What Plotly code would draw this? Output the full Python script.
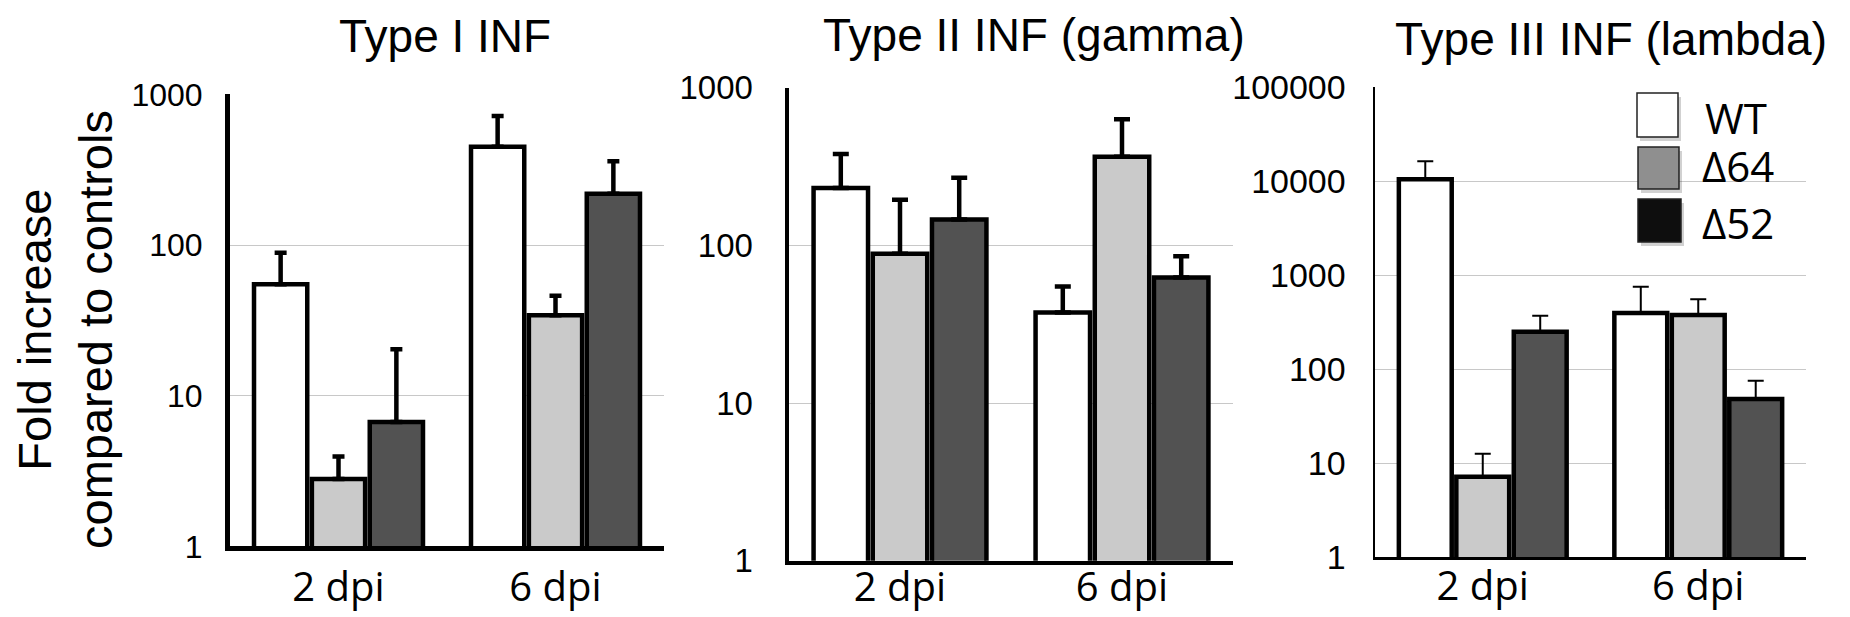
import plotly.graph_objects as go

W, H = 1850, 617

categories = ["2 dpi", "6 dpi"]
genotypes = ["WT", "Δ64", "Δ52"]
panel_titles = ["Type I INF", "Type II INF (gamma)", "Type III INF (lambda)"]

# Type I INF
t1_wt = [55, 449]
t1_wt_err = [89, 718]
t1_d64 = [2.8, 34.2]
t1_d64_err = [3.95, 46]
t1_d52 = [6.7, 219]
t1_d52_err = [20.3, 360]

# Type II INF (gamma)
t2_wt = [231, 37.6]
t2_wt_err = [380, 54.8]
t2_d64 = [88.5, 365]
t2_d64_err = [195, 631]
t2_d52 = [146, 62.5]
t2_d52_err = [269, 85.5]

# Type III INF (lambda)
t3_wt = [10500, 397]
t3_wt_err = [16300, 757]
t3_d64 = [7.2, 378]
t3_d64_err = [12.6, 555]
t3_d52 = [251, 48.2]
t3_d52_err = [372, 75.7]

y_ticks_1 = [1, 10, 100, 1000]
y_ticks_3 = [1, 10, 100, 1000, 10000, 100000]

panels = [
    [(t1_wt, t1_wt_err), (t1_d64, t1_d64_err), (t1_d52, t1_d52_err)],
    [(t2_wt, t2_wt_err), (t2_d64, t2_d64_err), (t2_d52, t2_d52_err)],
    [(t3_wt, t3_wt_err), (t3_d64, t3_d64_err), (t3_d52, t3_d52_err)],
]
bar_fill = ["#ffffff", "#cacaca", "#525252"]
legend_fill = ["#ffffff", "#8f8f8f", "#0e0e0e"]

# layout geometry (pixels)
x_dom_px = [(230, 664), (789, 1233), (1375, 1806)]
y_dom_px = [(546.4, 94.3), (560.7, 87.8), (557.3, 87.3)]
axis_lw = [5, 4.5, 2.5]
err_thick = [4.5, 4.5, 2]
err_w = [6, 8, 8]
ytick_size = [32, 33, 34]
ytick_len = [16, 25, 20]
xlabel_standoff = [2, -12, -8]
y_ranges = [[0, 3], [0, 3], [0, 5]]
y_tickvals = [y_ticks_1, y_ticks_1, y_ticks_3]

fig = go.Figure()
for p, series in enumerate(panels):
    sfx = "" if p == 0 else str(p + 1)
    for g, (vals, tops) in enumerate(series):
        fig.add_trace(go.Bar(
            x=categories, y=vals,
            xaxis="x" + sfx, yaxis="y" + sfx,
            name=genotypes[g], showlegend=False,
            marker=dict(color=bar_fill[g], line=dict(color="black", width=4.5)),
            error_y=dict(type="data", symmetric=False,
                         array=[t - v for t, v in zip(tops, vals)],
                         arrayminus=[0 for _ in vals],
                         color="black", thickness=err_thick[p], width=err_w[p]),
            hoverinfo="skip",
        ))

layout = dict(
    width=W, height=H, margin=dict(l=0, r=0, t=0, b=0),
    paper_bgcolor="white", plot_bgcolor="white",
    barmode="group", bargap=0.2, bargroupgap=0.08,
    font=dict(family="Liberation Sans, Arial, sans-serif", color="black"),
)
for p in range(3):
    sfx = "" if p == 0 else str(p + 1)
    x0, x1 = x_dom_px[p]
    yb, yt = y_dom_px[p]
    layout["xaxis" + sfx] = dict(
        domain=[x0 / W, x1 / W], anchor="y" + sfx,
        type="category", range=[-0.5, 1.5],
        showline=True, linecolor="black", linewidth=axis_lw[p],
        showgrid=False, zeroline=False,
        ticks="", ticklabelstandoff=xlabel_standoff[p],
        tickfont=dict(family="Open Sans, sans-serif", size=40, color="black"),
        automargin=False, fixedrange=True,
    )
    layout["yaxis" + sfx] = dict(
        domain=[1 - yb / H, 1 - yt / H], anchor="x" + sfx,
        type="log", range=y_ranges[p],
        tickmode="array", tickvals=y_tickvals[p],
        ticktext=[str(v) for v in y_tickvals[p]],
        showline=True, linecolor="black", linewidth=axis_lw[p],
        showgrid=True, gridcolor="#c8c8c8", gridwidth=1, zeroline=False,
        ticks="outside", ticklen=ytick_len[p], tickcolor="rgba(0,0,0,0)",
        tickfont=dict(family="Liberation Sans, Arial, sans-serif", size=ytick_size[p], color="black"),
        automargin=False, fixedrange=True,
    )
fig.update_layout(**layout)

def px(x):
    return x / W

def py(y):
    return 1 - y / H

annotations = []
title_pos = [(445, 36), (1034, 35), (1611, 39)]
for t, (cx, cy) in zip(panel_titles, title_pos):
    annotations.append(dict(text=t, x=px(cx), y=py(cy), xref="paper", yref="paper",
                            xanchor="center", yanchor="middle", showarrow=False,
                            font=dict(size=46, family="Liberation Sans, Arial, sans-serif", color="black")))
annotations.append(dict(text="Fold increase<br>compared to controls", x=px(65), y=py(330),
                        xref="paper", yref="paper", xanchor="center", yanchor="middle",
                        textangle=-90, showarrow=False,
                        font=dict(size=47, family="Liberation Sans, Arial, sans-serif", color="black")))

# legend drawn as swatches + labels
shapes = []
sw = [(1637, 93, 1678, 137), (1638, 147, 1679, 189), (1638, 199, 1681, 242)]
label_y = [117, 166, 222]
for g in range(3):
    x0, y0, x1, y1 = sw[g]
    shapes.append(dict(type="rect", xref="paper", yref="paper",
                       x0=px(x0 + 3), x1=px(x1 + 3), y0=py(y0 + 4), y1=py(y1 + 4),
                       fillcolor="rgba(0,0,0,0.18)", line=dict(width=0), layer="above"))
    shapes.append(dict(type="rect", xref="paper", yref="paper",
                       x0=px(x0), x1=px(x1), y0=py(y0), y1=py(y1),
                       fillcolor=legend_fill[g], line=dict(color="#222222", width=1.5), layer="above"))
    annotations.append(dict(text=genotypes[g], x=px(1700 if g else 1703), y=py(label_y[g]),
                            xref="paper", yref="paper", xanchor="left", yanchor="middle",
                            showarrow=False,
                            font=dict(size=42, family="Open Sans, sans-serif", color="black")))

fig.update_layout(annotations=annotations, shapes=shapes)
fig.write_html("out.html",
               config={"displayModeBar": False, "staticPlot": True},
               post_script="document.body.style.margin='0';document.body.style.overflow='hidden';")
